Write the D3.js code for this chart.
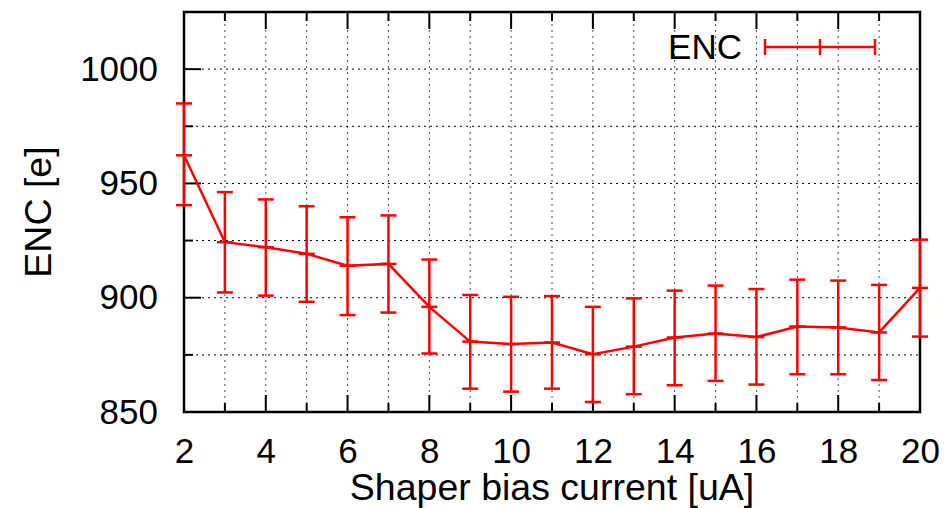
<!DOCTYPE html>
<html>
<head>
<meta charset="utf-8">
<script src="https://cdn.jsdelivr.net/npm/d3@7"></script>
<style>
  body { margin: 0; background: #fff; }
  text { font-family: "Liberation Sans", Arial, Helvetica, sans-serif; fill: #000; }
</style>
</head>
<body>
<svg width="949" height="508"></svg>
<script>
const svg = d3.select('svg');
const width = 949;
const height = 508;

// values
const current = [2, 3, 4, 5, 6, 7, 8, 9, 10, 11, 12, 13, 14, 15, 16, 17, 18, 19, 20];
const enc     = [962.3, 924.3, 922.1, 919.2, 914.0, 914.8, 896.0, 880.8, 879.7, 880.4,
                 875.3, 878.6, 882.6, 884.3, 882.8, 887.4, 887.0, 884.8, 904.3];
const encLow  = [940.5, 902.3, 900.9, 898.2, 892.4, 893.5, 875.6, 860.2, 858.9, 860.2,
                 854.4, 857.8, 861.7, 863.6, 862.0, 866.5, 866.5, 864.0, 883.0];
const encHigh = [985.0, 946.2, 943.0, 940.0, 935.2, 936.0, 916.7, 901.2, 900.4, 900.7,
                 896.0, 899.7, 903.1, 905.3, 903.8, 907.9, 907.5, 905.6, 925.4];

const xMajor = [2, 4, 6, 8, 10, 12, 14, 16, 18, 20];
const xMinor = [3, 5, 7, 9, 11, 13, 15, 17, 19];
const yMajor = [850, 900, 950, 1000];
const yMinor = [875, 925, 975];

const margin = { top: 12, right: 29, bottom: 96, left: 184 };
const innerWidth = width - margin.left - margin.right;
const innerHeight = height - margin.top - margin.bottom;

const xScale = d3.scaleLinear().domain([2, 20]).range([0, innerWidth]);
const yScale = d3.scaleLinear().domain([850, 1025]).range([innerHeight, 0]);

const g = svg.append('g')
  .attr('transform', `translate(${margin.left},${margin.top})`);

// grid
const gridG = g.append('g')
  .attr('stroke', '#000')
  .attr('stroke-width', 1)
  .attr('stroke-dasharray', '2,4');
gridG.selectAll('.vgrid').data(xMajor.concat(xMinor).filter(d => d > 2 && d < 20))
  .enter().append('line')
    .attr('class', 'vgrid')
    .attr('x1', d => xScale(d)).attr('x2', d => xScale(d))
    .attr('y1', 0).attr('y2', innerHeight)
    .attr('stroke-opacity', 0.7);
gridG.selectAll('.hgrid').data(yMajor.concat(yMinor).filter(d => d > 850))
  .enter().append('line')
    .attr('class', 'hgrid')
    .attr('x1', 0).attr('x2', innerWidth)
    .attr('y1', d => yScale(d)).attr('y2', d => yScale(d));

// axes
const xAxis = d3.axisBottom(xScale).tickValues(xMajor).tickSize(0).tickPadding(26)
  .tickFormat(d3.format('d'));
const yAxis = d3.axisLeft(yScale).tickValues(yMajor).tickSize(0).tickPadding(26)
  .tickFormat(d3.format('d'));

const xAxisG = g.append('g')
  .attr('transform', `translate(0,${innerHeight})`)
  .call(xAxis);
xAxisG.select('.domain').remove();
xAxisG.selectAll('text')
  .style('font-size', '35px')
  .style('font-family', '"Liberation Sans", Arial, sans-serif');

const yAxisG = g.append('g').call(yAxis);
yAxisG.select('.domain').remove();
yAxisG.selectAll('text')
  .style('font-size', '35px')
  .style('font-family', '"Liberation Sans", Arial, sans-serif');

// ticks (inward, mirrored on top)
const tickG = g.append('g').attr('stroke', '#000').attr('stroke-width', 2);
const xTicks = xMajor.map(d => ({ v: d, len: 17 })).concat(xMinor.map(d => ({ v: d, len: 9 })));
tickG.selectAll('.xt-b').data(xTicks).enter().append('line')
  .attr('x1', d => xScale(d.v)).attr('x2', d => xScale(d.v))
  .attr('y1', innerHeight).attr('y2', d => innerHeight - d.len);
tickG.selectAll('.xt-t').data(xTicks).enter().append('line')
  .attr('x1', d => xScale(d.v)).attr('x2', d => xScale(d.v))
  .attr('y1', 0).attr('y2', d => d.len);
const yTicks = yMajor.map(d => ({ v: d, len: 17 })).concat(yMinor.map(d => ({ v: d, len: 9 })));
tickG.selectAll('.yt-l').data(yTicks).enter().append('line')
  .attr('x1', 0).attr('x2', d => d.len)
  .attr('y1', d => yScale(d.v)).attr('y2', d => yScale(d.v));

// border
g.append('rect')
  .attr('width', innerWidth).attr('height', innerHeight)
  .attr('fill', 'none').attr('stroke', '#000').attr('stroke-width', 2.5);

// data line
const points = current.map((c, i) => ({ x: c, y: enc[i], lo: encLow[i], hi: encHigh[i] }));
const red = '#ff0000';
const capW = 8;

g.append('path')
  .datum(points)
  .attr('fill', 'none')
  .attr('stroke', red)
  .attr('stroke-width', 2.5)
  .attr('d', d3.line().x(d => xScale(d.x)).y(d => yScale(d.y)));

const errG = g.append('g').attr('stroke', red).attr('stroke-width', 2.5);
errG.selectAll('.bar').data(points).enter().append('line')
  .attr('x1', d => xScale(d.x)).attr('x2', d => xScale(d.x))
  .attr('y1', d => yScale(d.lo)).attr('y2', d => yScale(d.hi));
errG.selectAll('.caphi').data(points).enter().append('line')
  .attr('x1', d => xScale(d.x) - capW).attr('x2', d => xScale(d.x) + capW)
  .attr('y1', d => yScale(d.hi)).attr('y2', d => yScale(d.hi));
errG.selectAll('.caplo').data(points).enter().append('line')
  .attr('x1', d => xScale(d.x) - capW).attr('x2', d => xScale(d.x) + capW)
  .attr('y1', d => yScale(d.lo)).attr('y2', d => yScale(d.lo));
errG.selectAll('.capmid').data(points).enter().append('line')
  .attr('x1', d => xScale(d.x) - capW).attr('x2', d => xScale(d.x) + capW)
  .attr('y1', d => yScale(d.y)).attr('y2', d => yScale(d.y));

// legend
const legend = svg.append('g').attr('transform', 'translate(0,47)');
legend.append('text')
  .attr('x', 742).attr('y', 0).attr('dy', '0.35em')
  .attr('text-anchor', 'end')
  .style('font-size', '35px')
  .text('ENC');
const lg = legend.append('g').attr('stroke', red).attr('stroke-width', 2.5);
lg.append('line').attr('x1', 765).attr('x2', 875).attr('y1', 0).attr('y2', 0);
lg.append('line').attr('x1', 765).attr('x2', 765).attr('y1', -capW).attr('y2', capW);
lg.append('line').attr('x1', 875).attr('x2', 875).attr('y1', -capW).attr('y2', capW);
lg.append('line').attr('x1', 820).attr('x2', 820).attr('y1', -capW).attr('y2', capW);

// axis labels
svg.append('text')
  .attr('x', margin.left + innerWidth / 2).attr('y', 500)
  .attr('text-anchor', 'middle')
  .style('font-size', '37.5px')
  .text('Shaper bias current [uA]');
svg.append('text')
  .attr('transform', `translate(51,${margin.top + innerHeight / 2}) rotate(-90)`)
  .attr('text-anchor', 'middle')
  .style('font-size', '37.5px')
  .text('ENC [e]');
</script>
</body>
</html>
